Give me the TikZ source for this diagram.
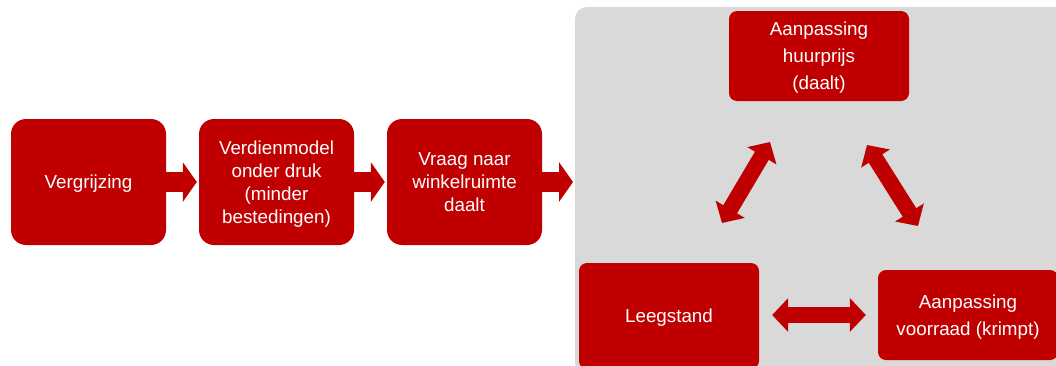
\documentclass[tikz,border=0pt]{standalone}
\usepackage{fontspec}
\setmainfont{Liberation Sans}
\usetikzlibrary{arrows.meta}
\definecolor{boxred}{HTML}{C00000}
\definecolor{panelgray}{HTML}{D9D9D9}
\begin{document}
\begin{tikzpicture}[x=1pt,y=-1pt,
  chainbox/.style={fill=boxred, text=white, rounded corners=15pt, minimum width=155pt, minimum height=126pt, inner sep=0pt, align=center, text depth=0pt, font=\fontsize{18.8}{23}\selectfont},
  cyclebox/.style={fill=boxred, text=white, rounded corners=8pt, minimum width=180pt, minimum height=90pt, inner sep=0pt, align=center, text depth=0pt, font=\fontsize{18.8}{27}\selectfont},
  flowarrow/.style={draw=boxred, line width=20pt, -{Triangle[length=14pt,width=39pt,fill=boxred]}},
  cyclearrow/.style={draw=boxred, line width=16pt, {Triangle[length=16pt,width=33pt,fill=boxred]}-{Triangle[length=16pt,width=33pt,fill=boxred]}}
]
\useasboundingbox (0,0) rectangle (1056,365);
\clip (0,0) rectangle (1056,365);
% panel
\fill[panelgray, rounded corners=12pt] (575,375) -- (575,7) -- (1068,7) -- (1068,375) -- cycle;
% chain boxes
\node[chainbox] (verg) at (88.5,182) {Vergrijzing};
\node[chainbox] (verd) at (276.5,182) {Verdienmodel\\onder druk\\(minder\\bestedingen)};
\node[chainbox] (vraag) at (464.5,182) {Vraag naar\\winkelruimte\\daalt};
\coordinate (panelin) at (573,182);
% cycle boxes
\node[cyclebox] (huur) at (819,56) {Aanpassing\\huurprijs\\(daalt)};
\node[cyclebox, minimum height=106pt] (leeg) at (669,316) {Leegstand};
\node[cyclebox] (voor) at (968,315) {Aanpassing\\voorraad (krimpt)};
% flow arrows
\draw[flowarrow, shorten >=2pt] (verg.east) -- (verd.west);
\draw[flowarrow, shorten >=2pt] (verd.east) -- (vraag.west);
\draw[flowarrow] (vraag.east) -- (panelin);
% cycle arrows
\coordinate (a1) at (722,223);
\coordinate (a2) at (770,142);
\coordinate (b1) at (867,145);
\coordinate (b2) at (918,226);
\draw[cyclearrow] (a1) -- (a2);
\draw[cyclearrow] (b1) -- (b2);
\draw[cyclearrow, shorten <=13pt, shorten >=12pt] (leeg.east |- voor.west) -- (voor.west);
\end{tikzpicture}
\end{document}
